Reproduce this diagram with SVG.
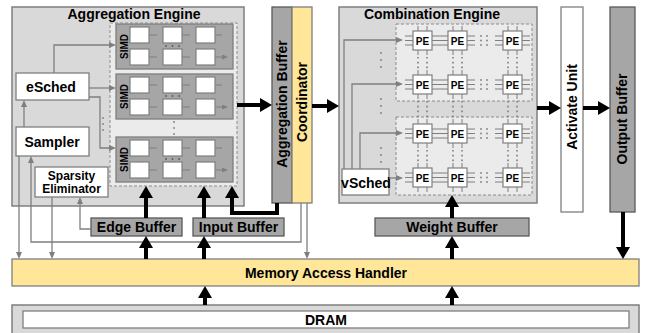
<svg xmlns="http://www.w3.org/2000/svg" xmlns:xlink="http://www.w3.org/1999/xlink" width="649" height="333" viewBox="0 0 649 333">
<style>
text{font-family:"Liberation Sans",Arial,sans-serif;font-weight:bold;fill:#000}
.eng{fill:#d9d9d9;stroke:#7f7f7f;stroke-width:1.5}
.dash{fill:#ebebeb;stroke:#8c8c8c;stroke-width:1;stroke-dasharray:3,2}
.simd{fill:#a6a6a6;stroke:#7f7f7f;stroke-width:1.3}
.sq{fill:#fff;stroke:#7f7f7f;stroke-width:1.2}
.wbox{fill:#fff;stroke:#7f7f7f;stroke-width:1.3}
.buf{fill:#a6a6a6;stroke:#595959;stroke-width:1.3}
.yel{fill:#ffe699;stroke:#7f7f7f;stroke-width:1.3}
.thin{fill:none;stroke:#7f7f7f;stroke-width:1.3;marker-end:url(#ta)}
.small{fill:none;stroke:#7f7f7f;stroke-width:1.2;marker-end:url(#sa)}
.thick{fill:none;stroke:#000;stroke-width:4;marker-end:url(#ka)}
.wire{fill:none;stroke:#7f7f7f;stroke-width:1}
.dot{fill:none;stroke:#7f7f7f;stroke-width:1.6;stroke-dasharray:1.6,3.2}
.t14{font-size:14px}
</style>
<defs>
<marker id="ta" markerUnits="userSpaceOnUse" markerWidth="7" markerHeight="6" refX="1" refY="3" orient="auto"><path d="M0,0 L7,3 L0,6 z" fill="#7f7f7f"/></marker>
<marker id="sa" markerUnits="userSpaceOnUse" markerWidth="6" markerHeight="5" refX="0" refY="2.5" orient="auto"><path d="M0,0 L6,2.5 L0,5 z" fill="#7f7f7f"/></marker>
<marker id="ka" markerUnits="userSpaceOnUse" markerWidth="12" markerHeight="14" refX="2" refY="7" orient="auto"><path d="M0,0 L12,7 L0,14 z" fill="#000"/></marker>
<g id="simdblk">
<rect class="simd" x="0" y="0" width="117" height="45"/>
<text transform="translate(12,22.5) rotate(-90)" text-anchor="middle" font-size="10">SIMD</text>
<path class="small" d="M33,11H41M66,11H74M99,11H106M33,33H41M66,33H74M99,33H106"/>
<rect class="sq" x="14" y="3" width="19" height="16"/>
<rect class="sq" x="47" y="3" width="19" height="16"/>
<rect class="sq" x="80" y="3" width="19" height="16"/>
<rect class="sq" x="14" y="25" width="19" height="16"/>
<rect class="sq" x="47" y="25" width="19" height="16"/>
<rect class="sq" x="80" y="25" width="19" height="16"/>
<circle cx="50" cy="22" r="0.9" fill="#595959"/><circle cx="56.5" cy="22" r="0.9" fill="#595959"/><circle cx="63" cy="22" r="0.9" fill="#595959"/>
</g>
<g id="pe">
<path class="wire" d="M-8,5H0M-8,9.5H0M-8,14H0M19,5H27M19,9.5H27M19,14H27M5,-5V0M14,-5V0M5,19V24M14,19V24"/>
<rect x="0" y="0" width="19" height="19" fill="#fff" stroke="#7f7f7f" stroke-width="1.2"/>
<text x="9.5" y="13.5" text-anchor="middle" font-size="10" font-weight="normal">PE</text>
</g>
<g id="hd" fill="#7f7f7f">
<circle cx="0" cy="5" r="0.9"/><circle cx="0" cy="9.5" r="0.9"/><circle cx="0" cy="14" r="0.9"/>
<circle cx="6" cy="5" r="0.9"/><circle cx="6" cy="9.5" r="0.9"/><circle cx="6" cy="14" r="0.9"/>
</g>
</defs>

<g id="aggregation-engine">
<rect class="eng" x="12" y="7" width="232" height="199"/>
<text class="t14" x="134" y="19" text-anchor="middle">Aggregation Engine</text>
<rect class="dash" x="110" y="23" width="127" height="163"/>
<use xlink:href="#simdblk" href="#simdblk" x="116" y="24"/>
<use xlink:href="#simdblk" href="#simdblk" x="116" y="74"/>
<use xlink:href="#simdblk" href="#simdblk" x="116" y="137"/>
<g fill="#7f7f7f"><circle cx="174" cy="122" r="0.9"/><circle cx="174" cy="128" r="0.9"/><circle cx="174" cy="134" r="0.9"/>
<circle cx="103" cy="118" r="0.9"/><circle cx="103" cy="124" r="0.9"/><circle cx="103" cy="130" r="0.9"/></g>
</g>
<g id="esched"><rect class="wbox" x="16" y="73" width="73" height="27"/><text class="t14" x="51" y="92" text-anchor="middle">eSched</text></g>
<g id="sampler"><rect class="wbox" x="16" y="127" width="73" height="29"/><text class="t14" x="52" y="147" text-anchor="middle">Sampler</text></g>
<g id="sparsity"><rect class="wbox" x="35" y="167" width="73" height="30"/><text x="71.5" y="179.5" text-anchor="middle" font-size="12">Sparsity</text><text x="71.5" y="193" text-anchor="middle" font-size="12">Eliminator</text></g>

<g id="agg-buffer"><rect class="buf" x="272" y="7" width="20" height="196" stroke="#7f7f7f"/><text class="t14" transform="translate(287,104) rotate(-90)" text-anchor="middle">Aggregation Buffer</text></g>
<g id="coordinator"><rect class="yel" x="292" y="7" width="20" height="196"/><text class="t14" transform="translate(307,102) rotate(-90)" text-anchor="middle">Coordinator</text></g>

<g id="combination-engine">
<rect class="eng" x="339" y="7" width="198" height="196"/>
<text class="t14" x="432" y="19" text-anchor="middle">Combination Engine</text>
<rect class="dash" x="396" y="24" width="136" height="77"/>
<rect class="dash" x="396" y="117" width="136" height="78"/>
<g class="dot">
<path d="M418,57V70M427,57V70M453,57V70M462,57V70M508,57V70M517,57V70"/>
<path d="M418,101V119M427,101V119M453,101V119M462,101V119M508,101V119M517,101V119"/>
<path d="M418,150V163M427,150V163M453,150V163M462,150V163M508,150V163M517,150V163"/>
</g>
<g fill="#7f7f7f"><circle cx="381" cy="53" r="0.9"/><circle cx="381" cy="60" r="0.9"/><circle cx="381" cy="67" r="0.9"/>
<circle cx="381" cy="99" r="0.9"/><circle cx="381" cy="106" r="0.9"/><circle cx="381" cy="113" r="0.9"/>
<circle cx="381" cy="148" r="0.9"/><circle cx="381" cy="155" r="0.9"/><circle cx="381" cy="162" r="0.9"/></g>
<use xlink:href="#hd" href="#hd" x="481" y="31"/><use xlink:href="#hd" href="#hd" x="481" y="75"/><use xlink:href="#hd" href="#hd" x="481" y="124"/><use xlink:href="#hd" href="#hd" x="481" y="168"/>
<use xlink:href="#pe" href="#pe" x="413" y="31"/><use xlink:href="#pe" href="#pe" x="448" y="31"/><use xlink:href="#pe" href="#pe" x="503" y="31"/>
<use xlink:href="#pe" href="#pe" x="413" y="75"/><use xlink:href="#pe" href="#pe" x="448" y="75"/><use xlink:href="#pe" href="#pe" x="503" y="75"/>
<use xlink:href="#pe" href="#pe" x="413" y="124"/><use xlink:href="#pe" href="#pe" x="448" y="124"/><use xlink:href="#pe" href="#pe" x="503" y="124"/>
<use xlink:href="#pe" href="#pe" x="413" y="168"/><use xlink:href="#pe" href="#pe" x="448" y="168"/><use xlink:href="#pe" href="#pe" x="503" y="168"/>
</g>
<g id="vsched"><rect class="wbox" x="342" y="169" width="47" height="26"/><text class="t14" x="366" y="188" text-anchor="middle">vSched</text></g>

<g id="activate-unit"><rect class="wbox" x="561" y="7" width="22" height="205"/><text class="t14" transform="translate(577,107) rotate(-90)" text-anchor="middle">Activate Unit</text></g>
<g id="output-buffer"><rect class="buf" x="610" y="7" width="25" height="205" stroke="#7f7f7f"/><text class="t14" transform="translate(627,119) rotate(-90)" text-anchor="middle">Output Buffer</text></g>

<g id="edge-buffer"><rect class="buf" x="91" y="218" width="91" height="18"/><text class="t14" x="136.5" y="232" text-anchor="middle">Edge Buffer</text></g>
<g id="input-buffer"><rect class="buf" x="193" y="218" width="91" height="18"/><text class="t14" x="238.5" y="232" text-anchor="middle">Input Buffer</text></g>
<g id="weight-buffer"><rect class="buf" x="375" y="218" width="154" height="18"/><text class="t14" x="452" y="232" text-anchor="middle">Weight Buffer</text></g>

<g id="memory-access-handler"><rect class="yel" x="12" y="259" width="627" height="27"/><text class="t14" x="326" y="278" text-anchor="middle">Memory Access Handler</text></g>
<g id="dram"><rect x="12" y="305" width="627" height="40" fill="#d9d9d9" stroke="#7f7f7f" stroke-width="1.5"/><rect class="wbox" x="23" y="311" width="606" height="17"/><text class="t14" x="326" y="325" text-anchor="middle">DRAM</text></g>

<g id="connectors">
<path class="thin" d="M24,127V106"/>
<path class="thin" d="M54,73V45H110"/>
<path class="thin" d="M89,88H110"/>
<path class="thin" d="M89,97H100V148H110"/>
<path class="thin" d="M19,156V253"/>
<path class="thin" d="M52,197V253"/>
<path class="thin" d="M301,203V242H31V162"/>
<path class="thin" d="M307,203V253"/>
<path class="thin" d="M91,229H80V203"/>
<path class="thin" d="M344,169V40H397"/>
<path class="thin" d="M352,169V84H397"/>
<path class="thin" d="M360,169V133H397"/>
<path class="thin" d="M389,178H397"/>
<path class="thick" d="M237,105H262"/>
<path class="thick" d="M312,106H329"/>
<path class="thick" d="M537,108H551"/>
<path class="thick" d="M583,108H600"/>
<path class="thick" d="M623,212V249"/>
<path class="thick" d="M146,218V196"/>
<path class="thick" d="M204,218V196"/>
<path class="thick" d="M277,203V213H232V196"/>
<path class="thick" d="M146,259V246"/>
<path class="thick" d="M204,259V246"/>
<path class="thick" d="M452,259V246"/>
<path class="thick" d="M452,218V205"/>
<path class="thick" d="M205,305V296"/>
<path class="thick" d="M452,305V296"/>
</g>
</svg>
